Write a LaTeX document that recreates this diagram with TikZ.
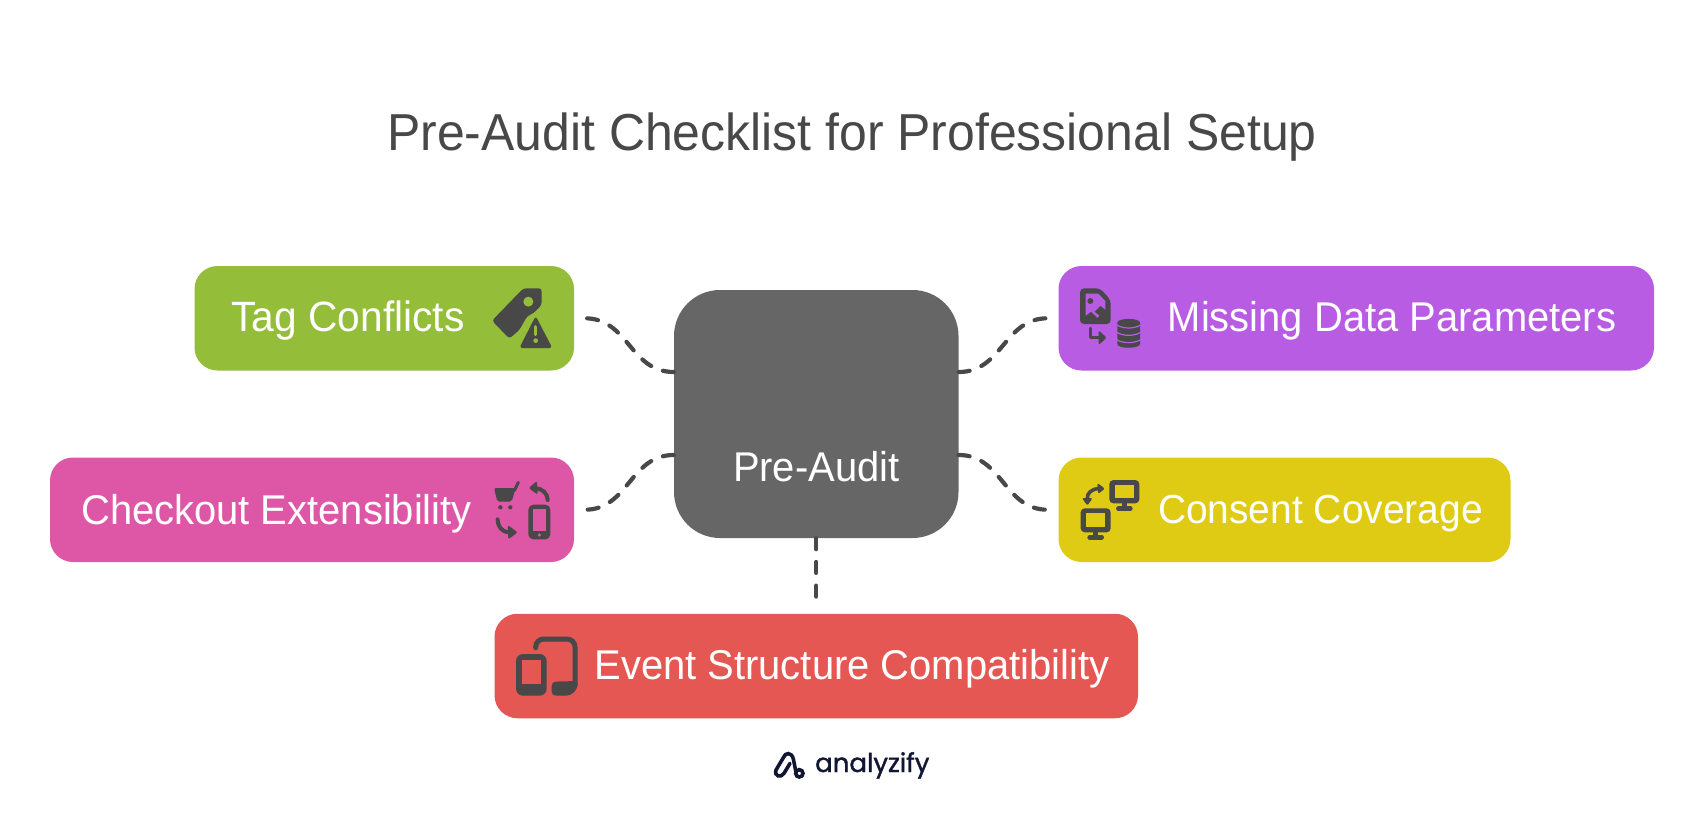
\documentclass[tikz,border=0pt]{standalone}
\usepackage{fontspec}
\usetikzlibrary{calc}
\setmainfont[FakeStretch=0.96]{Liberation Sans}
\newfontfamily\logofont[FakeBold=1.3]{Poppins}
\definecolor{cgreen}{HTML}{94BD39}
\definecolor{cpurple}{HTML}{B85CE3}
\definecolor{cpink}{HTML}{DE57A6}
\definecolor{cyellow}{HTML}{DFCB14}
\definecolor{cred}{HTML}{E55753}
\definecolor{ccentre}{HTML}{666666}
\definecolor{cdark}{HTML}{484848}
\definecolor{clogo}{HTML}{111633}
\tikzset{
  box/.style={rounded corners=23pt,inner sep=0pt,minimum height=104.5pt},
  boxtext/.style={text=white,inner sep=0pt,font=\fontsize{41.6}{44}\selectfont},
  conn/.style={draw=cdark,line width=4.2pt,line cap=round,dash pattern=on 11pt off 12.7pt},
  ic/.style={cdark},
  zoomed/.style={x=0.33333pt,y=-0.33333pt},
}
\begin{document}
\begin{tikzpicture}[x=1pt,y=-1pt]
\useasboundingbox (0,0) rectangle (1704,816);
\fill[white] (0,0) rectangle (1704,816);
\node[text=cdark,inner sep=0pt,font=\fontsize{52}{54}\selectfont] (title) at (852,137) {Pre-Audit Checklist for Professional Setup};
% boxes
\node[box,fill=cgreen,minimum width=379.5pt] (tag) at (384.25,318.25) {};
\node[box,fill=cpink,minimum width=524pt] (chk) at (312,509.75) {};
\node[box,fill=cpurple,minimum width=595.5pt] (mis) at (1356.25,318.25) {};
\node[box,fill=cyellow,minimum width=452pt] (con) at (1284.5,509.75) {};
\node[box,fill=cred,minimum width=643.5pt] (evt) at (816.25,666) {};
\node[fill=ccentre,rounded corners=46pt,inner sep=0pt,minimum width=284.5pt,minimum height=248pt] (pre) at (816.25,414) {};
% labels
\node[boxtext,font=\fontsize{42.4}{44}\selectfont] (tagT) at (348,320.5) {Tag Conflicts};
\node[boxtext] (chkT) at (276.5,514) {Checkout Extensibility};
\node[boxtext] (misT) at (1392,320.5) {Missing Data Parameters};
\node[boxtext,font=\fontsize{40.6}{44}\selectfont] (conT) at (1320.5,514) {Consent Coverage};
\node[boxtext] (evtT) at (852,669) {Event Structure Compatibility};
\node[boxtext] (preT) at (816.25,467) {Pre-Audit};
% connector ends
\coordinate (e1) at ($(tag.east)+(10.5,0)$);
\coordinate (e2) at ($(chk.east)+(10.5,0)$);
\coordinate (e3) at ($(mis.west)+(-10.5,0)$);
\coordinate (e4) at ($(con.west)+(-10.5,0)$);
\coordinate (e5) at ($(pre.south)+(0,61)$);
\coordinate (s1) at ($(pre.west)+(0,-42)$);
\coordinate (s2) at ($(pre.west)+(0,41)$);
\coordinate (s3) at ($(pre.east)+(0,-42)$);
\coordinate (s4) at ($(pre.east)+(0,41)$);
\draw[conn] (s1) .. controls ($(s1)+(-44,0)$) and ($(e1)+(44,0)$) .. (e1);
\draw[conn] (s2) .. controls ($(s2)+(-44,0)$) and ($(e2)+(44,0)$) .. (e2);
\draw[conn] (s3) .. controls ($(s3)+(44,0)$) and ($(e3)+(-44,0)$) .. (e3);
\draw[conn] (s4) .. controls ($(s4)+(44,0)$) and ($(e4)+(-44,0)$) .. (e4);
\draw[conn] (pre.south) -- (e5);
% tag icon
\begin{scope}[shift={(470,260)},zoomed]
\fill[ic,rounded corners=3pt] (160,85) -- (215,85) -- (215,135) -- (190,160) -- (172,168) -- (148,210) -- (118,236) -- (66,182) -- cycle;
\fill[cgreen] (175,125) circle[radius=15];
\fill[ic,rounded corners=3pt] (197,168) -- (247,264) -- (148,264) -- cycle;
\draw[cgreen,line width=3pt,line cap=round] (197,200) -- (197,224);
\fill[cgreen] (197,242) circle[radius=7];
\end{scope}
% file + database icon
\begin{scope}[shift={(1065,275)},zoomed]
\fill[ic,rounded corners=4pt] (45,40) -- (105,40) -- (137,75) -- (137,147) -- (45,147) -- cycle;
\fill[cpurple] (62,56) -- (100,56) -- (121,78) -- (121,104) -- (106,92) -- (88,110) -- (103,122) -- (97,128) -- (78,110) -- (62,122) -- cycle;
\fill[ic] (76,78) circle[radius=9];
\draw[ic,line width=3.4pt,line cap=round,line join=round] (76,160) -- (76,188) -- (105,188);
\fill[ic,rounded corners=2pt] (101,166) -- (125,188) -- (101,210) -- cycle;
\fill[ic] (157,143) .. controls (157,128) and (225,128) .. (225,143) -- (225,207) .. controls (225,222) and (157,222) .. (157,207) -- cycle;
\foreach \yy in {150,172,194}
  \draw[cpurple,line width=1.2pt] (155,\yy) .. controls (175,\yy+12) and (207,\yy+12) .. (227,\yy);
\end{scope}
% monitors icon
\begin{scope}[shift={(1070,470)},zoomed]
\fill[ic,rounded corners=4pt] (118,30) rectangle (208,100);
\fill[cyellow] (135,45) rectangle (192,85);
\fill[ic] (155,98) rectangle (171,112);
\draw[ic,line width=4.6pt,line cap=round] (145,116) -- (181,116);
\fill[ic,rounded corners=4pt] (32,115) rectangle (122,187);
\fill[cyellow] (48,130) rectangle (105,170);
\fill[ic] (69,185) rectangle (85,198);
\draw[ic,line width=4.6pt,line cap=round] (59,202) -- (95,202);
\draw[ic,line width=3.6pt] (52,88) .. controls (50,68) and (65,58) .. (86,55);
\fill[ic,rounded corners=2pt] (82,39) -- (105,56) -- (84,72) -- cycle;
\fill[ic,rounded corners=2pt] (36,84) -- (68,84) -- (52,107) -- cycle;
\end{scope}
% cart + phone icon
\begin{scope}[shift={(485,470)},zoomed]
\fill[ic,rounded corners=2pt] (27,54) -- (92,54) -- (80,95) -- (37,95) -- cycle;
\draw[ic,line width=3pt,line cap=round] (88,62) -- (100,37);
\fill[ic] (46,112) circle[radius=6.5];
\fill[ic] (76,112) circle[radius=6.5];
\draw[ic,line width=4pt,line cap=round] (150,55) .. controls (172,55) and (188,70) .. (188,90);
\fill[ic,rounded corners=2pt] (156,33) -- (131,54) -- (158,74) -- cycle;
\draw[ic,line width=4pt,line cap=round] (38,148) .. controls (38,170) and (50,185) .. (72,187);
\fill[ic,rounded corners=2pt] (68,165) -- (98,187) -- (70,208) -- cycle;
\fill[ic,rounded corners=5pt] (130,104) rectangle (196,208);
\fill[cpink] (143,118) rectangle (183,183);
\fill[cpink] (163,195) circle[radius=5];
\end{scope}
% devices icon
\begin{scope}[shift={(505,625)},zoomed]
\draw[ic,line width=5pt,line cap=round,rounded corners=8pt] (92,68) -- (92,42) -- (210,42) -- (210,180);
\fill[ic,rounded corners=4pt] (140,212) -- (140,170) -- (218,168) -- (218,190) -- (196,212) -- cycle;
\fill[ic,rounded corners=7pt] (33,87) rectangle (125,212);
\fill[cred] (50,105) rectangle (108,178);
\end{scope}
% logo
\begin{scope}[shift={(770,745)},zoomed]
\draw[clogo,line width=3.6pt] (88,85) circle[radius=11];
\draw[clogo,line width=3.6pt,line cap=round] (78,82) -- (70,42) .. controls (65,20) and (45,22) .. (40,38) -- (18,75) .. controls (12,94) and (32,100) .. (42,85) -- (60,55);
\end{scope}
\node[text=clogo,inner sep=0pt,anchor=base west,font=\logofont\fontsize{26}{28}\selectfont] (logo) at (815,772) {analyzify};
\end{tikzpicture}
\end{document}
